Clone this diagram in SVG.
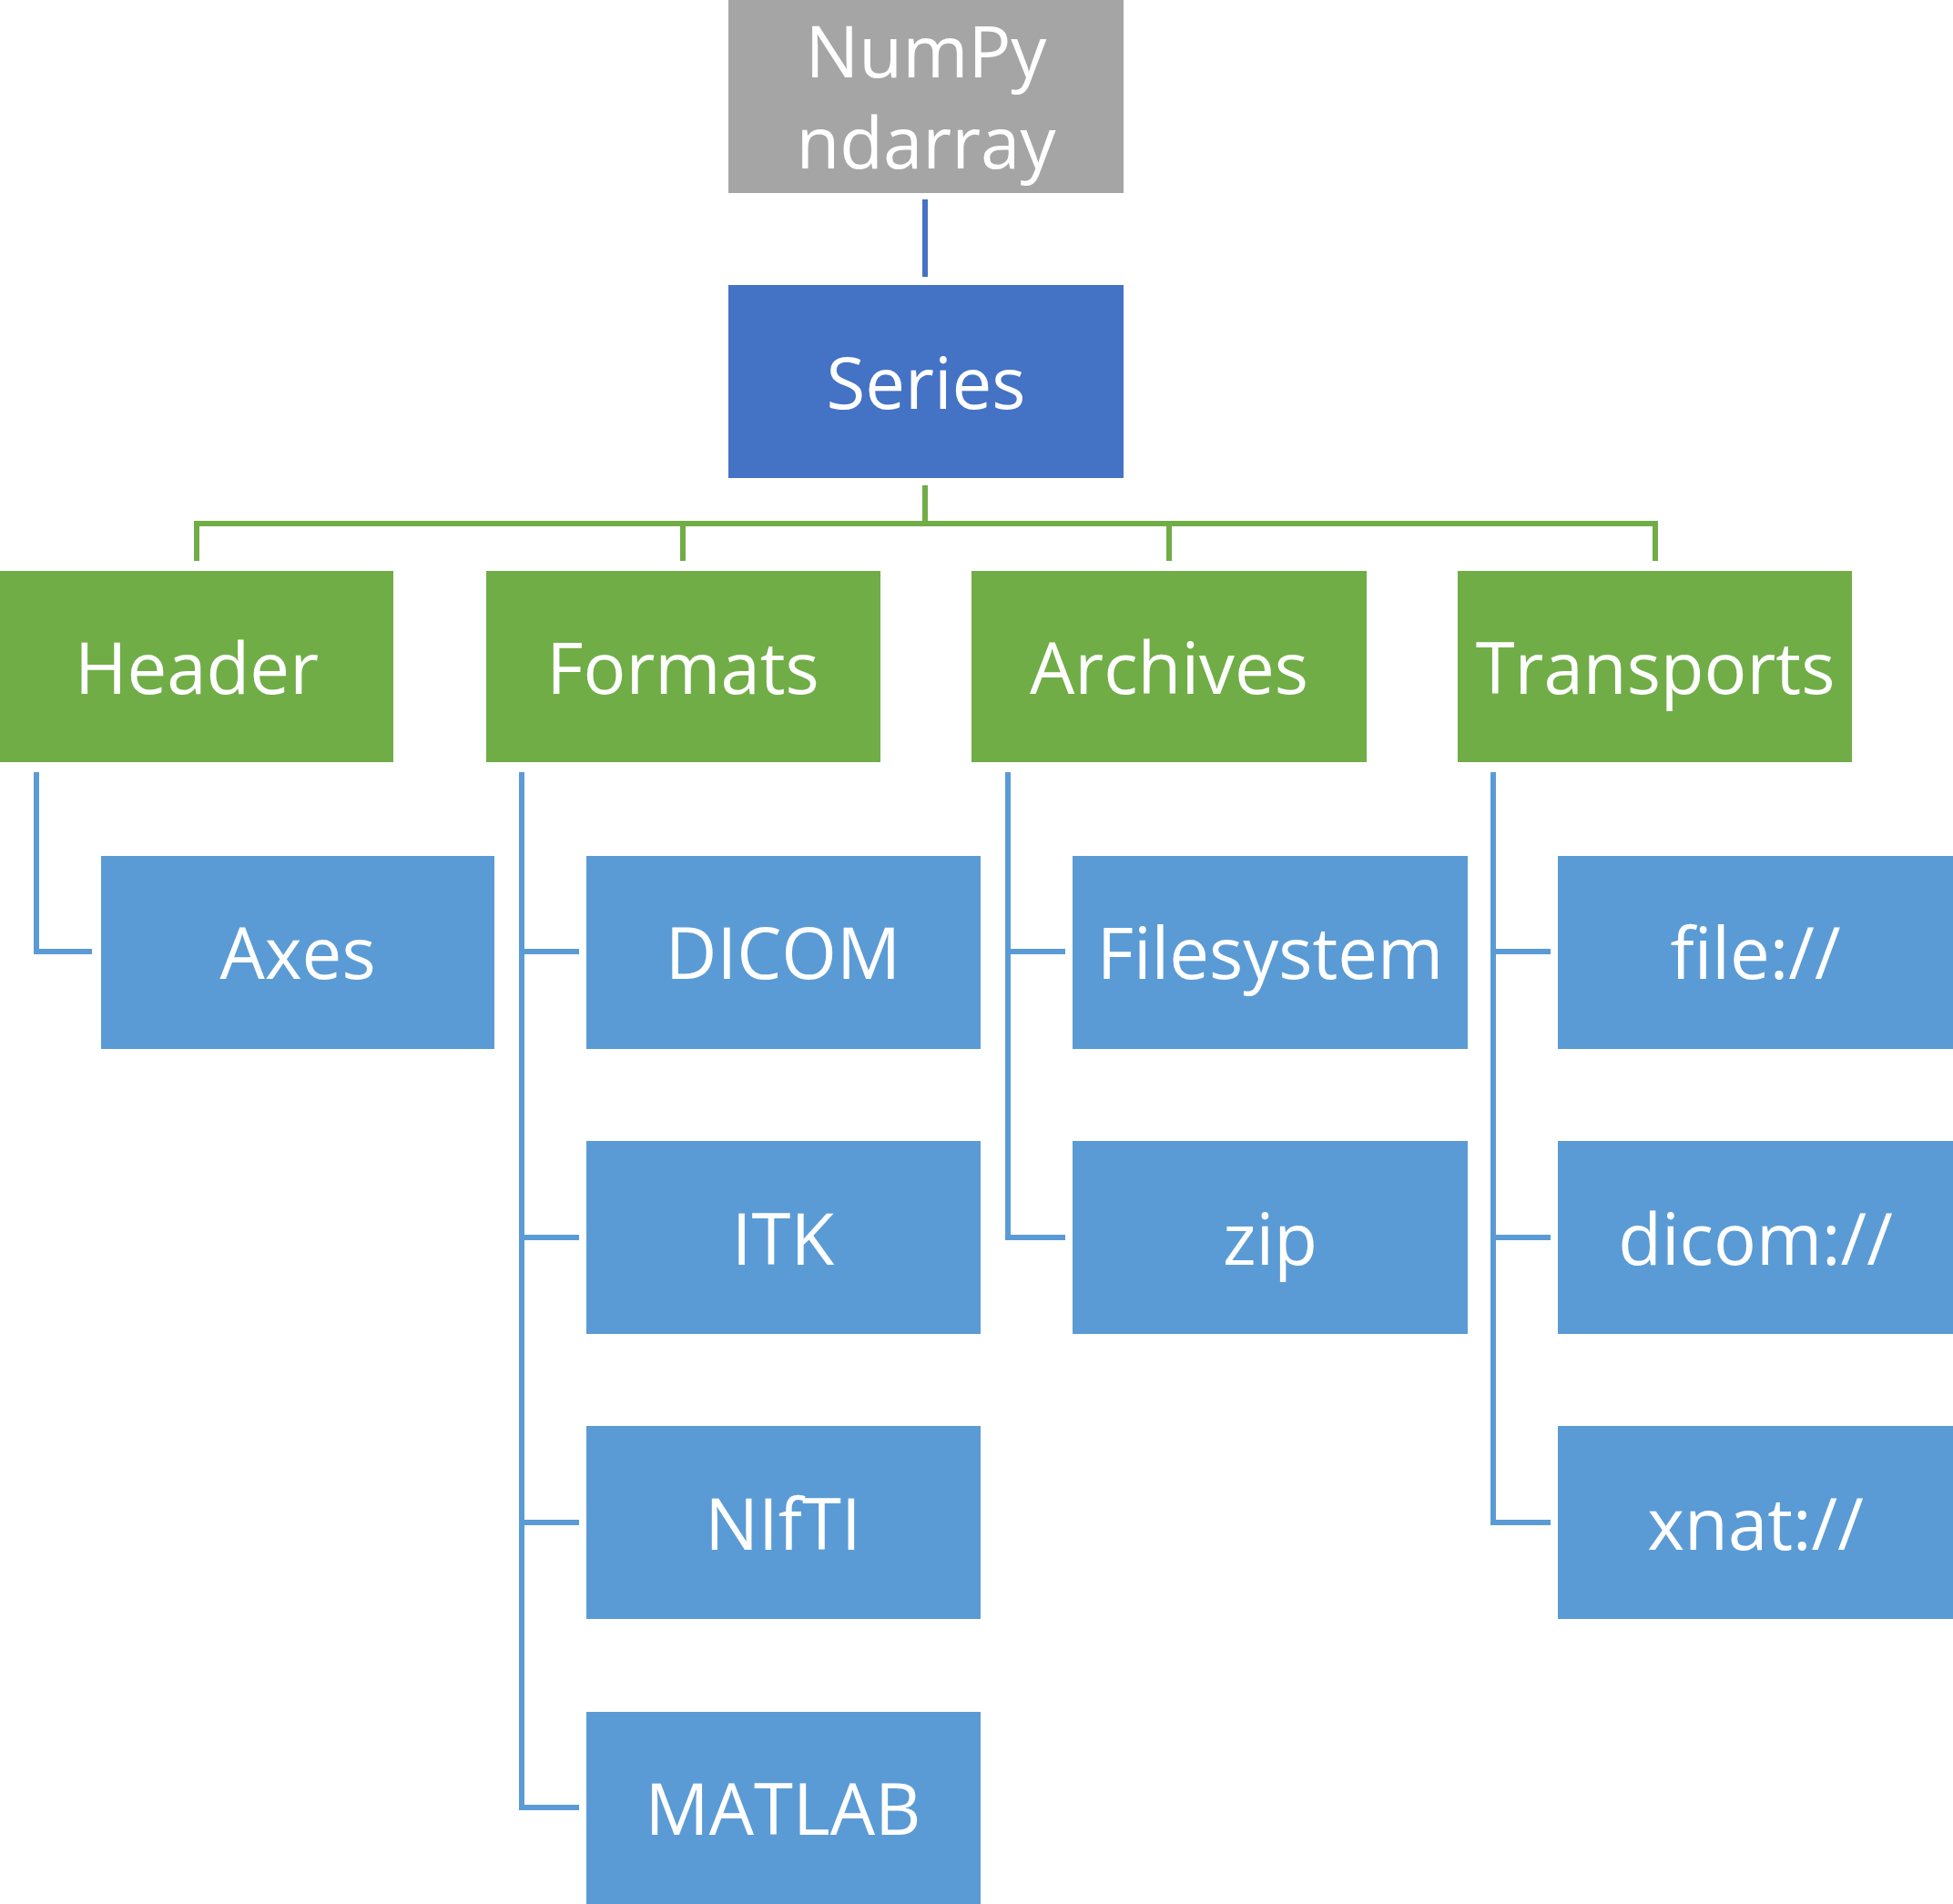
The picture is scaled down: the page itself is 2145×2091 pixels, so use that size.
<svg xmlns="http://www.w3.org/2000/svg" width="2145" height="2091" viewBox="0 0 2145 2091">
<style>
text{font-family:"Open Sans","Noto Sans",sans-serif;font-size:78px;fill:#fff;text-anchor:middle;dominant-baseline:central}
.g{fill:#70AD47}.b{fill:#5B9BD5}
.lg{stroke:#70AD47;stroke-width:6;fill:none}.lb{stroke:#5B9BD5;stroke-width:6;fill:none}
</style>
<rect width="2145" height="2091" fill="#fff"/>
<g id="connectors">
<line x1="1016" y1="219" x2="1016" y2="304" stroke="#4472C4" stroke-width="6"/>
<path class="lg" d="M1016 533V575M216 616V575H1818V616M750 575V616M1284 575V616"/>
<path class="lb" d="M40 848V1045H101"/>
<path class="lb" d="M573 848V1985H636M573 1045H636M573 1359H636M573 1672H636"/>
<path class="lb" d="M1107 848V1359H1170M1107 1045H1170"/>
<path class="lb" d="M1640 848V1672H1703M1640 1045H1703M1640 1359H1703"/>
</g>
<g id="numpy"><rect x="800" y="0" width="434" height="212" fill="#A5A5A5"/><text x="1017" y="55">NumPy</text><text x="1017" y="155">ndarray</text></g>
<g id="series"><rect x="800" y="313" width="434" height="212" fill="#4472C4"/><text x="1017" y="419">Series</text></g>
<g id="header"><rect class="g" x="0" y="627" width="432" height="210"/><text x="216" y="732">Header</text></g>
<g id="formats"><rect class="g" x="534" y="627" width="433" height="210"/><text x="750" y="732">Formats</text></g>
<g id="archives"><rect class="g" x="1067" y="627" width="434" height="210"/><text x="1284" y="732">Archives</text></g>
<g id="transports"><rect class="g" x="1601" y="627" width="433" height="210"/><text x="1818" y="732">Transports</text></g>
<g id="axes"><rect class="b" x="111" y="940" width="432" height="212"/><text x="327" y="1045">Axes</text></g>
<g id="dicom"><rect class="b" x="644" y="940" width="433" height="212"/><text x="860" y="1045">DICOM</text></g>
<g id="itk"><rect class="b" x="644" y="1253" width="433" height="212"/><text x="860" y="1359">ITK</text></g>
<g id="nifti"><rect class="b" x="644" y="1566" width="433" height="212"/><text x="860" y="1672">NIfTI</text></g>
<g id="matlab"><rect class="b" x="644" y="1880" width="433" height="211"/><text x="860" y="1985">MATLAB</text></g>
<g id="filesystem"><rect class="b" x="1178" y="940" width="434" height="212"/><text x="1395" y="1045">Filesystem</text></g>
<g id="zip"><rect class="b" x="1178" y="1253" width="434" height="212"/><text x="1395" y="1359">zip</text></g>
<g id="file"><rect class="b" x="1711" y="940" width="434" height="212"/><text x="1928" y="1045">file://</text></g>
<g id="dicomurl"><rect class="b" x="1711" y="1253" width="434" height="212"/><text x="1928" y="1359">dicom://</text></g>
<g id="xnat"><rect class="b" x="1711" y="1566" width="434" height="212"/><text x="1928" y="1672">xnat://</text></g>
</svg>
